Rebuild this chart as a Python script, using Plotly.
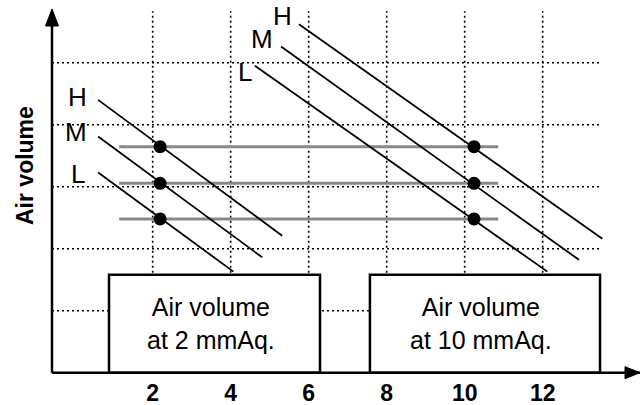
import plotly.graph_objects as go

# -------------------------
# Data
# -------------------------
flow_ticks = [2, 4, 6, 8, 10, 12]
grid_x = [2, 4, 6, 8, 10, 12]
grid_y = [1, 2, 3, 4, 5]

speeds = ["H", "M", "L"]

# fan lines of the 2 mmAq group (start / end)
low_x0 = [0.60, 0.60, 0.60]
low_y0 = [4.40, 3.81, 3.23]
low_x1 = [5.32, 4.81, 4.07]
low_y1 = [2.21, 1.86, 1.63]

# fan lines of the 10 mmAq group
high_x0 = [5.75, 5.29, 4.62]
high_y0 = [5.62, 5.26, 4.95]
high_x1 = [13.53, 12.93, 12.12]
high_y1 = [2.16, 1.82, 1.63]

# operating points and levels
point_x = [2.19, 10.24]
level_y = [3.645, 3.055, 2.48]
level_x = [1.14, 10.86]

# pressure boxes
box_x0 = [0.88, 7.57]
box_x1 = [6.29, 13.47]
box_top = [1.58, 1.58]
box_text = ["Air volume<br>at 2 mmAq.", "Air volume<br>at 10 mmAq."]

grid_top = 5.83
grid_right = 13.47

FONT = "Liberation Sans, Arial, sans-serif"
X_RANGE = [-1.915, 14.495]
Y_RANGE = [-0.521, 6.011]
AXIS_X = -0.582

fig = go.Figure()

# -------------------------
# Dotted grid
# -------------------------
dot = dict(color="black", width=1.6, dash="2px,3px")
for gx in grid_x:
    fig.add_shape(type="line", x0=gx, x1=gx, y0=0, y1=grid_top,
                  line=dot, layer="below")
for gy in grid_y:
    fig.add_shape(type="line", x0=AXIS_X, x1=grid_right, y0=gy, y1=gy,
                  line=dot, layer="below")

# -------------------------
# Boxes
# -------------------------
for bx0, bx1, bt, txt in zip(box_x0, box_x1, box_top, box_text):
    fig.add_shape(type="rect", x0=bx0, x1=bx1, y0=0, y1=bt,
                  fillcolor="white", line=dict(color="black", width=2.5),
                  layer="below")
    fig.add_annotation(x=(bx0 + bx1) / 2, y=bt / 2, text=txt, showarrow=False,
                       xshift=-4, font=dict(family=FONT, size=25, color="black"))

# -------------------------
# Gray level lines
# -------------------------
for ly in level_y:
    fig.add_trace(go.Scatter(x=level_x, y=[ly, ly], mode="lines",
                             line=dict(color="#888888", width=3),
                             hoverinfo="skip", showlegend=False))

# -------------------------
# Fan lines + labels
# -------------------------
low_shift = [(-9, 3), (-9, 4), (-11, -2)]
high_shift = [(-5, 8), (-6, 8), (-1, -6)]
for xs0, ys0, xs1, ys1, shifts in [(low_x0, low_y0, low_x1, low_y1, low_shift),
                                    (high_x0, high_y0, high_x1, high_y1, high_shift)]:
    for name, a, b, c, d, (dx, dy) in zip(speeds, xs0, ys0, xs1, ys1, shifts):
        fig.add_trace(go.Scatter(x=[a, c], y=[b, d], mode="lines",
                                 line=dict(color="black", width=1.8),
                                 hoverinfo="skip", showlegend=False))
        fig.add_annotation(x=a, y=b, text=name, showarrow=False,
                           xanchor="right", xshift=dx, yshift=dy,
                           font=dict(family=FONT, size=26, color="black"))

# operating points
for px in point_x:
    fig.add_trace(go.Scatter(x=[px] * len(level_y), y=level_y, mode="markers",
                             marker=dict(color="black", size=13),
                             hoverinfo="skip", showlegend=False))

# -------------------------
# Axes with arrows
# -------------------------
fig.add_shape(type="line", x0=AXIS_X, x1=X_RANGE[1], y0=0, y1=0,
              line=dict(color="black", width=2.5))
fig.add_shape(type="line", x0=AXIS_X, x1=AXIS_X, y0=0, y1=5.6,
              line=dict(color="black", width=2.5))
fig.add_shape(type="path", xsizemode="pixel", ysizemode="pixel",
              xanchor=AXIS_X, yanchor=Y_RANGE[1],
              path="M 0 -9 L -6.5 -26 L 6.5 -26 Z",
              fillcolor="black", line=dict(color="black", width=1))
fig.add_shape(type="path", xsizemode="pixel", ysizemode="pixel",
              xanchor=X_RANGE[1], yanchor=0,
              path="M 0 0 L -15 6 L -15 -6 Z",
              fillcolor="black", line=dict(color="black", width=1))

fig.add_annotation(xref="paper", yref="paper", x=25 / 640, y=(405 - 166) / 405,
                   xanchor="center", yanchor="middle",
                   text="<b>Air volume</b>", textangle=-90, showarrow=False,
                   font=dict(family=FONT, size=23, color="black"))

# -------------------------
# Layout
# -------------------------
fig.update_xaxes(range=X_RANGE, tickvals=flow_ticks, showgrid=False, zeroline=False,
                 showline=False, ticks="", anchor="free",
                 position=(0 - Y_RANGE[0]) / (Y_RANGE[1] - Y_RANGE[0]),
                 ticklabelstandoff=4,
                 tickfont=dict(family=FONT, size=23, color="black", weight="bold"),
                 fixedrange=True)
fig.update_yaxes(range=Y_RANGE, showgrid=False, zeroline=False, showline=False,
                 showticklabels=False, fixedrange=True)

fig.update_layout(
    width=640, height=405,
    margin=dict(l=0, r=0, t=0, b=0),
    plot_bgcolor="white", paper_bgcolor="white",
    showlegend=False,
)

fig.write_html("out.html", config={"displayModeBar": False},
               post_script="document.body.style.margin='0';")
